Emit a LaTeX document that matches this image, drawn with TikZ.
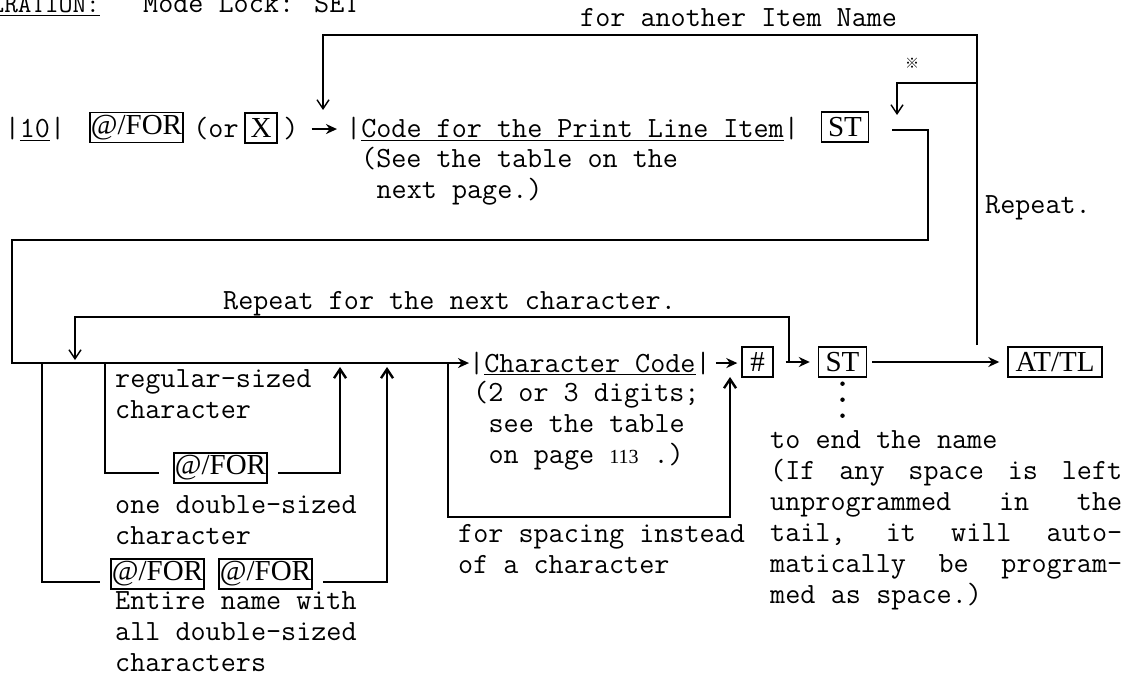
\documentclass[tikz,border=0pt]{standalone}
\usepackage{fontspec}
\newfontfamily\keyfont{Liberation Serif}
\newfontfamily\cjk{Noto Sans CJK JP}
\usetikzlibrary{arrows.meta,positioning}
\newcommand{\field}[1]{|\underline{#1}|}

\begin{document}
\begin{tikzpicture}[x=1pt, y=-1pt,
  font=\ttfamily\fontsize{29.3}{31}\selectfont,
  lbl/.style={inner sep=0pt, align=left},
  keybox/.style={draw, line width=1.4pt, inner xsep=1pt, inner ysep=0pt, minimum height=30pt,
    font=\keyfont\fontsize{29}{29}\selectfont},
  flow/.style={line width=2.4pt},
  back/.style={line width=1.4pt},
  arr/.style={-{Stealth[length=11pt,width=10pt]}, line width=2.4pt},
  barb/.style={-{Straight Barb[length=9pt,width=12pt]}}
]
\useasboundingbox[fill=white] (0,0) rectangle (1133,690);

% heading
\node[lbl, anchor=base east, font=\ttfamily\fontsize{26.5}{27}\selectfont] (head) at (100,13) {\underline{LRATION:}};
\node[lbl, anchor=base west] (mode) at (143,13) {Mode Lock: SET};

% first row
\node[lbl, anchor=base] (ten) at (35,138) {\field{10}};
\node[keybox] (kfor) at (136.5,127.5) {@/FOR};
\node[lbl, anchor=base] (orl) at (216,138) {(or};
\node[keybox, minimum width=32pt] (kx) at (261,128) {X};
\node[lbl, anchor=base] (orr) at (291,138) {)};
\node[lbl, anchor=base west] (code) at (346,138) {\field{Code for the Print Line Item}};
\node[lbl, anchor=base west] (codenote) at (361,198) {(See the table on the\\\hspace*{.525em}next page.)};
\node[keybox, minimum width=47pt] (kst) at (845,127) {ST};
\node[lbl, anchor=base west] (another) at (580,27) {for another Item Name};
\node[lbl, font=\cjk\fontsize{14}{14}\selectfont] (star) at (912,63) {※};
\node[lbl, anchor=base west] (repeat) at (985,214) {Repeat.};

% second row
\node[lbl, anchor=base west] (charcode) at (469,372) {\field{Character Code}};
\node[lbl, anchor=base west] (charnote) at (473,463) {(2 or 3 digits;\\\hspace*{.525em}see the table\\\hspace*{.525em}on page {\keyfont\fontsize{20}{20}\selectfont 113} .)};
\node[keybox, minimum width=31pt] (khash) at (757.5,362) {\#};
\node[keybox, minimum width=48pt] (kst2) at (842.5,362) {ST};
\node[keybox, minimum width=94pt] (katl) at (1055,362) {AT/TL};
\node[lbl, anchor=base west] (repchar) at (223,309) {Repeat for the next character.};

% size choices
\node[lbl, anchor=base west] (regular) at (115,418) {regular-sized\\character};
\node[keybox] (kfor2) at (220.5,468) {@/FOR};
\node[lbl, anchor=base west] (onedouble) at (115,544) {one double-sized\\character};
\node[keybox] (kfor3) at (157.5,574) {@/FOR};
\node[keybox] (kfor4) at (265.5,574) {@/FOR};
\node[lbl, anchor=base west] (entire) at (115,671) {Entire name with\\all double-sized\\characters};
\node[lbl, anchor=base west] (spacing) at (458,573) {for spacing instead\\of a character};
\node[lbl, anchor=base west, text width=352pt, align=justify] (endnote) at (770,448)
  {\noindent\spaceskip=.525em plus 1em\hangindent=.525em\hangafter=2
   to end the name\newline (If any space is left\linebreak unprogrammed in the\linebreak
   tail, it will auto-\linebreak matically be program-\linebreak med as space.)};

% first row connectors
\draw[arr, shorten <=13pt, shorten >=9pt] (orr.east) -- (orr.east -| code.west);
\coordinate (stout) at (892,130);
\coordinate (frameR) at (928,240);
\coordinate (frameL) at (12,240);
\draw[flow, -{Stealth[length=11pt,width=10pt]}] (stout) -| (frameR) -- (frameL) |- (charcode.west);

% return loops
\coordinate (repbot) at (977,345);
\coordinate (reptop) at (977,35);
\coordinate (codein) at (323,110);
\draw[back, barb] (repbot) -- (reptop) -| (codein);
\coordinate (starR) at (977,83);
\coordinate (stin) at (897,115);
\draw[back, barb] (starR) -| (stin);

% second row connectors
\draw[arr, shorten <=5pt, shorten >=4pt] (charcode.east) -- (charcode.east -| khash.west);
\draw[arr, shorten <=12pt, shorten >=8pt] (khash) -- (kst2);
\draw[arr, shorten <=5pt, shorten >=8pt] (kst2) -- (katl);
\draw[line width=4.5pt, line cap=round, dash pattern=on 0pt off 16pt] ([yshift=-6pt]kst2.south) -- ([yshift=-38pt]kst2.south);

% repeat for the next character
\coordinate (hashout) at (789,362);
\coordinate (loopTR) at (789,317);
\coordinate (charin) at (75,360);
\draw[back, barb] (hashout) -- (loopTR) -| (charin);

% spacing loop
\coordinate (ccdown) at (448,364);
\coordinate (ccbot) at (448,517);
\coordinate (ccup) at (730,377);
\draw[flow, barb] (ccdown) -- (ccbot) -| (ccup);

% double-sized branches
\coordinate (jA) at (42,364);
\coordinate (jB) at (105,364);
\coordinate (upA) at (387,367);
\coordinate (upB) at (340,367);
\draw[flow, shorten >=14pt] (jB) |- ([yshift=-5pt]kfor2.west);
\draw[flow, barb, shorten <=10pt] ([yshift=-5pt]kfor2.east) -| (upB);
\draw[flow, shorten >=10pt] (jA) |- ([yshift=-8pt]kfor3.west);
\draw[flow, barb, shorten <=10pt] ([yshift=-8pt]kfor4.east) -| (upA);
\end{tikzpicture}
\end{document}
